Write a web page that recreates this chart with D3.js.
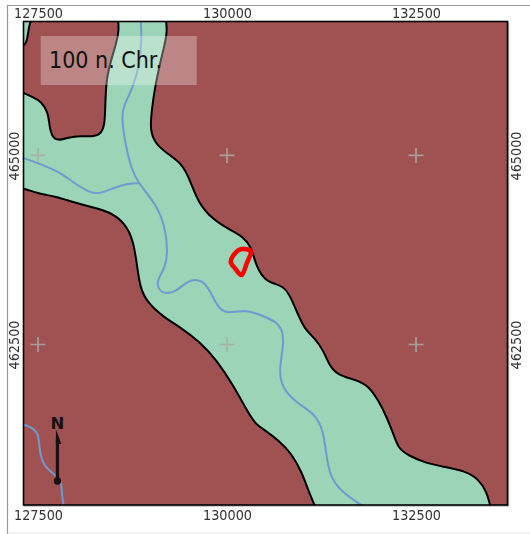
<!DOCTYPE html>
<html>
<head>
<meta charset="utf-8">
<script src="https://cdn.jsdelivr.net/npm/d3@7"></script>
<style>
  html, body { margin: 0; padding: 0; background: #fff; }
  svg { display: block; filter: blur(0.4px); }
</style>
</head>
<body>
<div id="map"></div>
<script>
// map coordinates
var xDomain = [127308, 133710];
var yDomain = [460377, 466772];
var xTicks = [127500, 130000, 132500];
var yTicks = [462500, 465000];
var label = "100 n. Chr.";

// valley edges
var valleyRight = [[129190,466900],[129189,466790],[129210,466660],[129180,466484],[129114,466220],[129048,465910],[129004,465602],[128981,465337],[129048,465161],[129202,465029],[129401,464897],[129511,464676],[129620,464368],[129819,464147],[130040,464015],[130216,463926],[130327,463772],[130357,463640],[130414,463485],[130503,463357],[130591,463313],[130745,463270],[130833,463151],[130943,462886],[131023,462709],[131164,462577],[131274,462423],[131362,462202],[131472,462093],[131693,462034],[131869,461960],[132001,461762],[132112,461541],[132200,461320],[132266,461122],[132398,461034],[132619,460932],[132884,460880],[133148,460827],[133324,460725],[133435,460549],[133479,460377],[133490,460340],[133500,460200]];
var valleyLower = [[131200,460200],[131180,460340],[131155,460377],[131075,460571],[130988,460813],[130856,461056],[130679,461233],[130503,461365],[130370,461452],[130261,461630],[130083,461960],[129864,462291],[129643,462533],[129378,462731],[129157,462864],[128938,463062],[128849,463261],[128813,463525],[128761,463882],[128651,464103],[128452,464257],[128188,464323],[127946,464389],[127747,464455],[127483,464500],[127315,464566],[127280,464556],[127150,464560]];
var valleyUpper = [[127150,465840],[127280,465840],[127315,465823],[127417,465778],[127549,465712],[127636,465562],[127649,465403],[127681,465249],[127769,465192],[127901,465241],[128056,465258],[128254,465249],[128343,465298],[128386,465430],[128390,465734],[128409,466042],[128475,466290],[128541,466505],[128571,466660],[128558,466790],[128560,466900]];
var cornerPatch = [[127200,466400],[127315,466448],[127348,466501],[127368,466607],[127381,466713],[127414,466800],[127420,466900],[127200,466900]];

// rivers
var riverMain = [[128858,466790],[128872,466571],[128849,466220],[128761,465910],[128628,465646],[128607,465513],[128651,465161],[128739,464808],[128827,464632],[129070,464345],[129180,464058],[129216,463750],[129189,463525],[129070,463349],[129091,463217],[129202,463164],[129335,463208],[129488,463349],[129643,463362],[129753,463261],[129885,462974],[129996,462907],[130261,462966],[130503,462864],[130657,462798],[130745,462665],[130745,462467],[130688,462159],[130724,461938],[130900,461739],[131164,461585],[131274,461365],[131310,461056],[131362,460747],[131517,460549],[131759,460386],[131830,460340]];
var riverSide = [[127280,464975],[127570,464874],[127813,464765],[128012,464610],[128188,464508],[128320,464491],[128519,464579],[128694,464632],[128827,464632]];
var riverWest = [[127280,461450],[127438,461399],[127513,461299],[127517,461101],[127570,460902],[127702,460791],[127813,460704],[127813,460526],[127835,460386],[127845,460340]];

// red outline
var site = [[130106,463706],[130194,463763],[130313,463728],[130261,463574],[130194,463419],[130106,463508],[130049,463595]];

// north arrow foot and tip
var northFoot = [127757, 460694];
var northTip = [127757, 461382];

var w = 530, h = 534;
var margin = {left: 23.5, right: 22.5, top: 21.5, bottom: 29};

var svg = d3.select("#map").append("svg")
    .attr("width", w)
    .attr("height", h)
    .style("font-family", "'DejaVu Sans', sans-serif");

var x = d3.scaleLinear().domain(xDomain).range([margin.left, w - margin.right]);
var y = d3.scaleLinear().domain(yDomain).range([h - margin.bottom, margin.top]);

var line = d3.line()
    .x(function(d) { return x(d[0]); })
    .y(function(d) { return y(d[1]); });

// outer frame
svg.append("path")
    .attr("d", "M7.5,534V5.5H530")
    .attr("fill", "none")
    .attr("stroke", "#999")
    .attr("stroke-width", 1.2);
svg.append("path")
    .attr("d", "M7.5,533H530")
    .attr("stroke", "#e4e4e4")
    .attr("stroke-width", 1);

svg.append("clipPath").attr("id", "plot")
  .append("rect")
    .attr("x", margin.left)
    .attr("y", margin.top)
    .attr("width", w - margin.left - margin.right)
    .attr("height", h - margin.top - margin.bottom);

// grey edge on the right and under the plot
svg.append("rect")
    .attr("x", margin.left + 1)
    .attr("y", margin.top + 1)
    .attr("width", w - margin.left - margin.right)
    .attr("height", h - margin.top - margin.bottom)
    .attr("fill", "none")
    .attr("stroke", "#bbb")
    .attr("stroke-width", 1.5);

var plot = svg.append("g").attr("clip-path", "url(#plot)");

plot.append("rect")
    .attr("x", margin.left)
    .attr("y", margin.top)
    .attr("width", w - margin.left - margin.right)
    .attr("height", h - margin.top - margin.bottom)
    .attr("fill", "#a05252");

// valley floor
var valley = valleyRight.concat(valleyLower, valleyUpper);
[valley, cornerPatch].forEach(function(ring) {
  plot.append("path")
      .attr("d", line.curve(d3.curveBasisClosed)(ring))
      .attr("fill", "#9bd4b6")
      .attr("stroke", "#000")
      .attr("stroke-width", 2);
});

// rivers
[riverMain, riverSide, riverWest].forEach(function(r) {
  plot.append("path")
      .attr("d", line.curve(d3.curveBasis)(r))
      .attr("fill", "none")
      .attr("stroke", "#6f9ad0")
      .attr("stroke-width", 2);
});

// grid crosses
xTicks.forEach(function(tx) {
  yTicks.forEach(function(ty) {
    plot.append("path")
        .attr("d", "M" + (x(tx) - 7.5) + "," + y(ty) + "h15M" + x(tx) + "," + (y(ty) - 7.5) + "v15")
        .attr("stroke", "#aaa")
        .attr("stroke-opacity", 0.85)
        .attr("stroke-width", 1.7)
        .attr("fill", "none");
  });
});

// site
plot.append("path")
    .attr("d", line.curve(d3.curveCatmullRomClosed.alpha(0))(site))
    .attr("fill", "none")
    .attr("stroke", "#f00")
    .attr("stroke-width", 4.6);

// north arrow
var ax = x(northFoot[0]), ay = y(northFoot[1]), ty = y(northTip[1]);
plot.append("line")
    .attr("x1", ax).attr("y1", ay)
    .attr("x2", ax).attr("y2", ty + 10)
    .attr("stroke", "#1a1010")
    .attr("stroke-width", 3.3);
plot.append("path")
    .attr("d", "M" + (ax - 1.6) + "," + ty + "L" + (ax + 4) + "," + (ty + 15) + "L" + (ax - 1.6) + "," + (ty + 15) + "Z")
    .attr("fill", "#1a1010");
plot.append("circle")
    .attr("cx", ax).attr("cy", ay)
    .attr("r", 3.7)
    .attr("fill", "#1a1010");
plot.append("text")
    .attr("x", ax)
    .attr("y", ty - 0.5)
    .attr("text-anchor", "middle")
    .attr("font-size", 16.5)
    .attr("font-weight", "bold")
    .attr("fill", "#1a1010")
    .text("N");

// label box
svg.append("rect")
    .attr("x", 40.7).attr("y", 36)
    .attr("width", 156).attr("height", 49)
    .attr("fill", "#fff")
    .attr("fill-opacity", 0.3);
svg.append("text")
    .attr("x", 49)
    .attr("y", 68)
    .attr("font-size", 22.8)
    .attr("textLength", 113)
    .attr("lengthAdjust", "spacingAndGlyphs")
    .attr("fill", "#111")
    .text(label);

// axes, labels only
function styleAxis(g) {
  g.select(".domain").remove();
  g.selectAll("line").remove();
  g.selectAll("text")
      .attr("font-size", 13.6)
      .attr("font-family", "'DejaVu Sans', sans-serif")
      .attr("textLength", 49)
      .attr("lengthAdjust", "spacingAndGlyphs")
      .attr("fill", "#333");
}

svg.append("g")
    .attr("transform", "translate(0," + margin.top + ")")
    .call(d3.axisTop(x).tickValues(xTicks).tickFormat(d3.format("d")).tickSize(0).tickPadding(3.2))
    .call(styleAxis);
svg.append("g")
    .attr("transform", "translate(0," + (h - margin.bottom) + ")")
    .call(d3.axisBottom(x).tickValues(xTicks).tickFormat(d3.format("d")).tickSize(0).tickPadding(5.7))
    .call(styleAxis);

svg.append("g")
    .attr("transform", "translate(" + margin.left + ",0)")
    .call(d3.axisLeft(y).tickValues(yTicks).tickFormat(d3.format("d")).tickSize(0))
    .call(styleAxis)
    .selectAll("text")
      .attr("transform", "translate(-4.2,0) rotate(-90)")
      .attr("x", 0).attr("dy", 0)
      .attr("text-anchor", "middle");
svg.append("g")
    .attr("transform", "translate(" + (w - margin.right) + ",0)")
    .call(d3.axisRight(y).tickValues(yTicks).tickFormat(d3.format("d")).tickSize(0))
    .call(styleAxis)
    .selectAll("text")
      .attr("transform", "translate(13.5,0) rotate(-90)")
      .attr("x", 0).attr("dy", 0)
      .attr("text-anchor", "middle");

// plot border
svg.append("rect")
    .attr("x", margin.left)
    .attr("y", margin.top)
    .attr("width", w - margin.left - margin.right)
    .attr("height", h - margin.top - margin.bottom)
    .attr("fill", "none")
    .attr("stroke", "#000")
    .attr("stroke-width", 1.6);
</script>
</body>
</html>
